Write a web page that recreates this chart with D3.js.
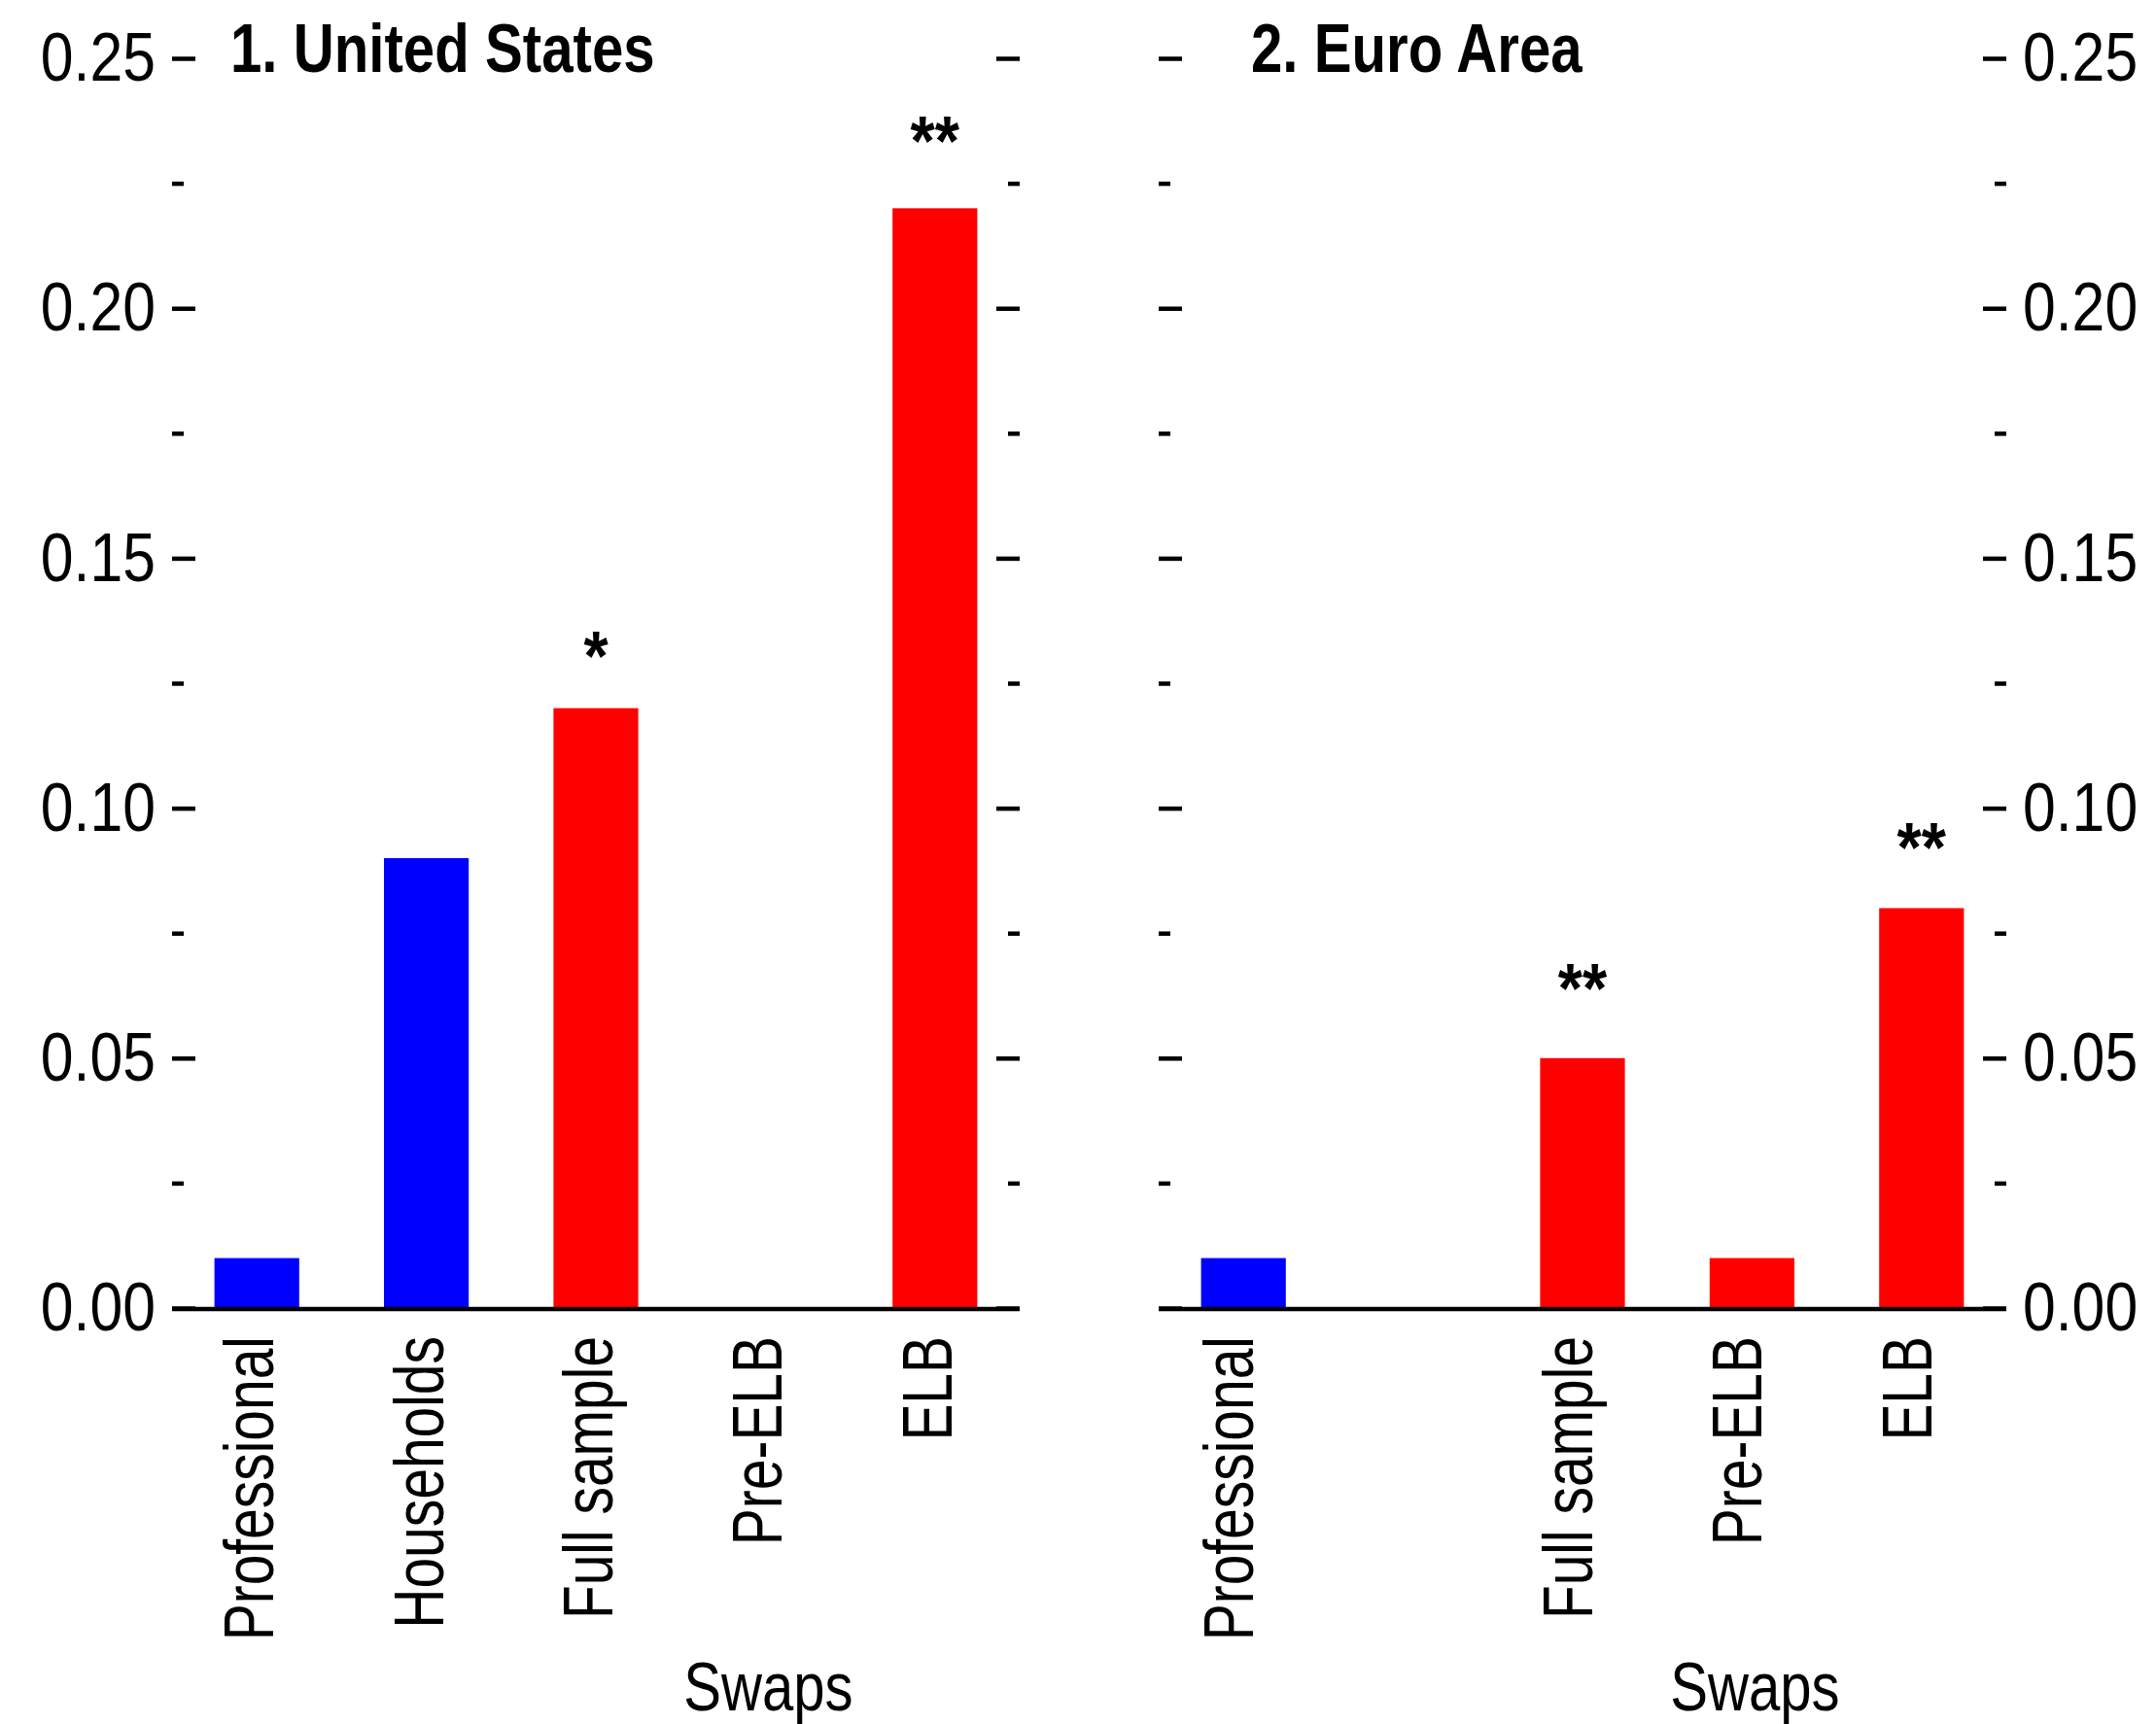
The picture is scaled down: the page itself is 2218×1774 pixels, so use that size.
<!DOCTYPE html>
<html>
<head>
<meta charset="utf-8">
<script src="https://cdn.jsdelivr.net/npm/d3@7"></script>
<style>
  body { margin: 0; background: #fff; }
  svg text { font-family: "Liberation Sans", Arial, Helvetica, sans-serif; fill: #000; }
</style>
</head>
<body>
<svg id="chart" width="2218" height="1774"></svg>
<script>
// Categories along the x axis (same order in both panels)
const categories = ["Professional", "Households", "Full sample", "Pre-ELB", "ELB"];
const categoryGroups = ["survey", "survey", "swaps", "swaps", "swaps"];

// Estimated values (null = no estimate)
const usValues = [0.01, 0.09, 0.12, null, 0.22];
const euroValues = [0.01, null, 0.05, 0.01, 0.08];

// Category labels shown under each panel
const usCategoryLabels = ["Professional", "Households", "Full sample", "Pre-ELB", "ELB"];
const euroCategoryLabels = ["Professional", "", "Full sample", "Pre-ELB", "ELB"];

// Significance markers and the height (in data units) at which they sit
const usStars = ["", "", "*", "", "**"];
const usStarHeights = [null, null, 0.1335, null, 0.2366];
const euroStars = ["", "", "**", "", "**"];
const euroStarHeights = [null, null, 0.0670, null, 0.0953];

// Y axis ticks
const majorTicks = [0, 0.05, 0.10, 0.15, 0.20, 0.25];
const majorTickLabels = ["0.00", "0.05", "0.10", "0.15", "0.20", "0.25"];
const minorTicks = [0.025, 0.075, 0.125, 0.175, 0.225];

const panelTitles = ["1. United States", "2. Euro Area"];
const swapsLabel = "Swaps";

const groupColors = { survey: "#0000ff", swaps: "#ff0000" };

const svg = d3.select("#chart");
svg.append("rect").attr("width", 2218).attr("height", 1774).attr("fill", "#fff");

const y = d3.scaleLinear().domain([0, 0.25]).range([1346, 60]);

const panels = [
  { x0: 177, x1: 1049, labelSide: "left", titleX: 237, labelShift: 17,
    title: panelTitles[0], values: usValues, labels: usCategoryLabels,
    stars: usStars, starHeights: usStarHeights },
  { x0: 1192, x1: 2064, labelSide: "right", titleX: 1287, labelShift: 10,
    title: panelTitles[1], values: euroValues, labels: euroCategoryLabels,
    stars: euroStars, starHeights: euroStarHeights }
];

const STROKE = 4.5;

function condenseTickText(g, sx) {
  g.selectAll(".tick text").each(function () {
    const t = d3.select(this);
    const x = +t.attr("x") || 0;
    t.attr("x", 0).attr("transform", `translate(${x},0) scale(${sx},1)`);
  });
}

panels.forEach(p => {
  const g = svg.append("g");
  const x = d3.scaleBand().domain(categories).range([p.x0, p.x1])
    .paddingInner(0.5).paddingOuter(0.25);

  // bars
  const rows = categories.map((c, i) => ({ c, v: p.values[i], grp: categoryGroups[i] }))
    .filter(d => d.v !== null);
  g.selectAll("rect.bar").data(rows).join("rect")
    .attr("class", "bar")
    .attr("x", d => x(d.c))
    .attr("width", x.bandwidth())
    .attr("y", d => y(d.v))
    .attr("height", d => y(0) - y(d.v))
    .attr("fill", d => groupColors[d.grp]);

  // y axes on both sides, ticks pointing inward
  const leftMajor = d3.axisLeft(y).tickValues(majorTicks).tickSize(-24).tickPadding(17)
    .tickFormat((d, i) => p.labelSide === "left" ? majorTickLabels[i] : "");
  const leftMinor = d3.axisLeft(y).tickValues(minorTicks).tickSize(-12).tickFormat("");
  const rightMajor = d3.axisRight(y).tickValues(majorTicks).tickSize(-24).tickPadding(17)
    .tickFormat((d, i) => p.labelSide === "right" ? majorTickLabels[i] : "");
  const rightMinor = d3.axisRight(y).tickValues(minorTicks).tickSize(-12).tickFormat("");

  [[leftMajor, p.x0], [leftMinor, p.x0], [rightMajor, p.x1], [rightMinor, p.x1]].forEach(([ax, xp]) => {
    const ag = g.append("g").attr("transform", `translate(${xp},0)`).call(ax);
    ag.select(".domain").remove();
    ag.attr("font-size", 71).attr("font-family", null);
    ag.selectAll("line").attr("stroke-width", STROKE).attr("stroke", "#000");
    condenseTickText(ag, 0.855);
  });

  // x axis line
  g.append("line")
    .attr("x1", p.x0).attr("x2", p.x1)
    .attr("y1", y(0) + 1).attr("y2", y(0) + 1)
    .attr("stroke", "#000").attr("stroke-width", STROKE);

  // category labels, rotated
  categories.forEach((c, i) => {
    const lbl = p.labels[i];
    if (!lbl) return;
    const cx = x(c) + x.bandwidth() / 2;
    g.append("text")
      .attr("text-anchor", "end")
      .attr("font-size", 73)
      .attr("transform", `translate(${cx + p.labelShift},1375) rotate(-90) scale(0.78,1)`)
      .text(lbl);
  });

  // significance stars
  categories.forEach((c, i) => {
    if (!p.stars[i]) return;
    const cx = x(c) + x.bandwidth() / 2;
    g.append("text")
      .attr("text-anchor", "middle")
      .attr("font-size", 72)
      .attr("font-weight", "bold")
      .attr("transform", `translate(${cx},${y(p.starHeights[i]) + 41}) scale(0.9,1)`)
      .text(p.stars[i]);
  });

  // group label under the swap-based measures
  const sx = x("Pre-ELB") + x.bandwidth() / 2 + 3;
  g.append("text")
    .attr("text-anchor", "middle")
    .attr("font-size", 70)
    .attr("transform", `translate(${sx},1760) scale(0.83,1)`)
    .text(swapsLabel);

  // panel title
  g.append("text")
    .attr("font-size", 71)
    .attr("font-weight", "bold")
    .attr("transform", `translate(${p.titleX},74) scale(0.82,1)`)
    .text(p.title);
});
</script>
</body>
</html>
